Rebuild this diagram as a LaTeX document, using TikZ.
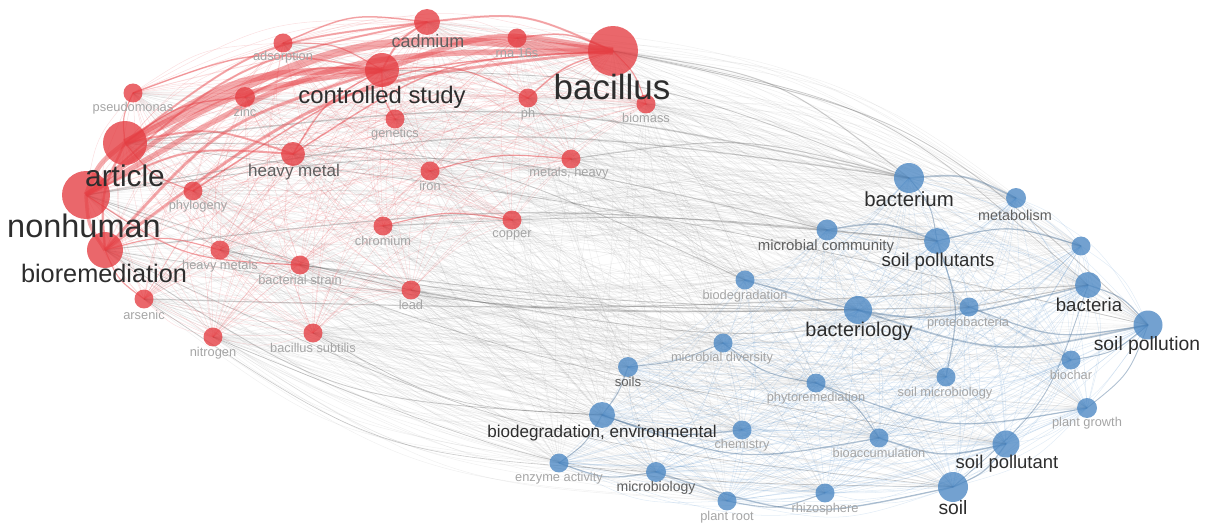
\documentclass[tikz,border=0pt]{standalone}
\usepackage{fontspec}
\setmainfont{Liberation Sans}
\definecolor{kred}{RGB}{228,60,65}
\definecolor{kblue}{RGB}{75,135,195}
\definecolor{kredge}{RGB}{230,70,75}
\definecolor{kbedge}{RGB}{80,140,200}
\definecolor{kgedge}{RGB}{100,100,100}
\definecolor{kbdark}{RGB}{70,105,140}
\definecolor{kdark}{RGB}{45,45,45}
\definecolor{kmid}{RGB}{95,95,95}
\definecolor{klight}{RGB}{165,165,165}
\pgfdeclarelayer{edges}
\pgfdeclarelayer{labels}
\pgfsetlayers{edges,main,labels}
\tikzset{
  rn/.style={circle, inner sep=0pt, draw=none, fill=kred, fill opacity=0.78},
  bn/.style={circle, inner sep=0pt, draw=none, fill=kblue, fill opacity=0.78},
  lab/.style={inner sep=0pt, text=kdark, font=\fontsize{#1}{#1}\selectfont},
  labm/.style={inner sep=0pt, text=kmid, font=\fontsize{#1}{#1}\selectfont},
  labs/.style={inner sep=0pt, text=klight, font=\fontsize{7.3}{7.3}\selectfont},
  redge/.style={draw=kredge, draw opacity=0.16, line width=0.3pt},
  bedge/.style={draw=kbedge, draw opacity=0.16, line width=0.3pt},
  gedge/.style={draw=kgedge, draw opacity=0.09, line width=0.3pt},
  rthick/.style={draw=kredge, draw opacity=0.45, line width=#1*0.567pt},
  gthick/.style={draw=kgedge, draw opacity=0.28, line width=#1*0.567pt},
  bthick/.style={draw=kbdark, draw opacity=0.35, line width=#1*0.567pt},
}
\newcommand\kw[5]{%
  \expandafter\gdef\csname kwx#1\endcsname{#2}%
  \expandafter\gdef\csname kwy#1\endcsname{#3}%
  \node[#5, minimum size=#4*0.04cm] (#1) at (#2,#3) {};}
\newcommand\kl[5]{%
  \begin{pgfonlayer}{labels}\node[#5] (l#1) at (#2,#3) {#4};\end{pgfonlayer}}
\newcommand\kedge[3]{%
  \edef\ax{\csname kwx#1\endcsname}\edef\ay{\csname kwy#1\endcsname}%
  \edef\bx{\csname kwx#2\endcsname}\edef\by{\csname kwy#2\endcsname}%
  \pgfmathsetmacro\kdx{(\bx-\ax)/100}%
  \pgfmathsetmacro\kdy{(\by-\ay)/100}%
  \pgfmathsetmacro\kmx{(\ax+\bx)/200-6.05}%
  \pgfmathsetmacro\kmy{(\ay+\by)/200-2.6}%
  \pgfmathsetmacro\kf{13.5*min(1,veclen(\kmx,\kmy)/2.2)}%
  \pgfmathsetmacro\ks{((\kdx)*(\kmy)-(\kdy)*(\kmx)<0)?-(\kf):(\kf)}%
  \pgfmathsetmacro\kcx{(\ax+\bx)/2-(\ks)*(\kdy)}%
  \pgfmathsetmacro\kcy{(\ay+\by)/2+(\ks)*(\kdx)}%
  \draw[#3] (#1.center) .. controls (\kcx,\kcy) .. (#2.center);}
\def\redlist{bacillus,cstudy,cadmium,rna,adsorption,pseudo,zinc,article,nonhuman,biorem,hmetal,genetics,ph,biomass,metalsh,iron,phylo,chromium,copper,hmetals,bstrain,lead,arsenic,nitrogen,bsubtilis}
\def\bluelist{bacterium,metab,unl,mcomm,spollutants,bacteria,biodeg,bacteriol,proteo,spollution,soils,mdiv,biochar,phyto,smicro,pgrowth,bioenv,chem,bioacc,spollutant,enzyme,microbio,proot,rhizo,soil}
\begin{document}
\begin{tikzpicture}[x=0.02cm,y=-0.02cm]
\useasboundingbox (0,0) rectangle (1210,523);
% red cluster
\kw{bacillus}{613}{51}{25}{rn}
\kw{cstudy}{382}{70}{17}{rn}
\kw{cadmium}{427}{22}{13}{rn}
\kw{rna}{517}{38}{9.5}{rn}
\kw{adsorption}{283}{43}{9.5}{rn}
\kw{pseudo}{133}{93}{9.5}{rn}
\kw{zinc}{245}{97}{10}{rn}
\kw{article}{125}{143}{22}{rn}
\kw{nonhuman}{86}{195}{24}{rn}
\kw{biorem}{105}{250}{18}{rn}
\kw{hmetal}{293}{154}{12}{rn}
\kw{genetics}{395}{119}{9.5}{rn}
\kw{ph}{528}{98}{9.5}{rn}
\kw{biomass}{646}{104}{9.5}{rn}
\kw{metalsh}{571}{159}{9.5}{rn}
\kw{iron}{430}{171}{9.5}{rn}
\kw{phylo}{193}{191}{9.5}{rn}
\kw{chromium}{383}{226}{9.5}{rn}
\kw{copper}{512}{220}{9.5}{rn}
\kw{hmetals}{220}{250}{9.5}{rn}
\kw{bstrain}{300}{265}{9.5}{rn}
\kw{lead}{411}{290}{9.5}{rn}
\kw{arsenic}{144}{299}{9.5}{rn}
\kw{nitrogen}{213}{337}{9.5}{rn}
\kw{bsubtilis}{313}{333}{9.5}{rn}
% blue cluster
\kw{bacterium}{909}{178}{15}{bn}
\kw{metab}{1016}{198}{10}{bn}
\kw{unl}{1081}{246}{9.5}{bn}
\kw{mcomm}{827}{230}{10.5}{bn}
\kw{spollutants}{937}{241}{13}{bn}
\kw{bacteria}{1088}{285}{13}{bn}
\kw{biodeg}{745}{280}{9.5}{bn}
\kw{bacteriol}{858}{310}{14}{bn}
\kw{proteo}{969}{307}{9.5}{bn}
\kw{spollution}{1148}{325}{14.5}{bn}
\kw{soils}{628}{367}{10}{bn}
\kw{mdiv}{723}{343}{9.5}{bn}
\kw{biochar}{1071}{360}{9.5}{bn}
\kw{phyto}{816}{383}{9.5}{bn}
\kw{smicro}{946}{377}{9.5}{bn}
\kw{pgrowth}{1087}{408}{10}{bn}
\kw{bioenv}{602}{415}{13}{bn}
\kw{chem}{742}{430}{9.5}{bn}
\kw{bioacc}{879}{438}{9.5}{bn}
\kw{spollutant}{1006}{444}{13.5}{bn}
\kw{enzyme}{559}{463}{9.5}{bn}
\kw{microbio}{656}{472}{10}{bn}
\kw{proot}{727}{501}{9.5}{bn}
\kw{rhizo}{825}{493}{9.5}{bn}
\kw{soil}{953}{487}{15}{bn}
% edges
\begin{pgfonlayer}{edges}
\foreach \a in \redlist {\foreach \b in \bluelist {\kedge{\a}{\b}{gedge}}}
\foreach \a [count=\i] in \redlist {\foreach \b [count=\j] in \redlist {\ifnum\j>\i\relax\kedge{\a}{\b}{redge}\fi}}
\foreach \a [count=\i] in \bluelist {\foreach \b [count=\j] in \bluelist {\ifnum\j>\i\relax\kedge{\a}{\b}{bedge}\fi}}
% strong grey
\foreach \a/\b/\w in {article/bacterium/1.5, nonhuman/bacterium/1.3, biorem/spollutants/1.2, arsenic/bacteria/1.2,
  hmetals/bacteriol/1, lead/bacteria/1, bacillus/bacterium/1.1, bacillus/spollution/0.9, nonhuman/mcomm/1,
  article/biodeg/0.9, bstrain/bacteriol/0.9, chromium/spollutants/0.9, metalsh/bacterium/1.1, biorem/bioenv/0.9,
  nonhuman/bacteriol/0.9, article/spollution/0.8, bacillus/bacteria/0.8, cstudy/bacterium/0.9, nitrogen/soil/0.7,
  biorem/soil/0.7, nonhuman/spollutant/0.7, bsubtilis/bioenv/0.7, arsenic/microbio/0.6, biorem/proteo/0.8}
  {\kedge{\a}{\b}{gthick=\w}}
% strong red
\foreach \a/\b/\w in {article/bacillus/8, article/cstudy/7, nonhuman/bacillus/5.5, nonhuman/cstudy/5, cstudy/bacillus/5.5,
  article/nonhuman/5, biorem/bacillus/3, biorem/cstudy/3, biorem/nonhuman/3.5, biorem/article/2.5,
  cadmium/bacillus/2, cadmium/cstudy/2, hmetal/article/2, hmetal/nonhuman/2, zinc/cstudy/2, zinc/article/1.5,
  pseudo/cstudy/1.5, adsorption/cadmium/1.5, rna/bacillus/1.5, article/cadmium/2, nonhuman/cadmium/2,
  hmetal/cstudy/1.5, ph/bacillus/1.5, biomass/bacillus/1.2, phylo/bacillus/1.5, chromium/copper/1.2,
  iron/metalsh/1.2, hmetal/bacillus/1.5, pseudo/article/1.2, arsenic/biorem/1.2, hmetals/biorem/1.2,
  ph/cstudy/1.2, genetics/cstudy/1.2, adsorption/cstudy/1.2, phylo/article/1.2, bstrain/nonhuman/1.2}
  {\kedge{\a}{\b}{rthick=\w}}
% strong blue
\foreach \a/\b/\w in {bacterium/metab/1.8, mcomm/spollutants/1.6, spollutants/unl/1.3, biodeg/bacteria/1.6,
  bacteriol/spollution/1.8, phyto/pgrowth/1.3, bioacc/spollutant/1.6, microbio/soil/1.4, spollutants/smicro/1.3,
  bioenv/chem/1.3, bioenv/soils/1.1, enzyme/microbio/1.3, proot/rhizo/1.1, phyto/bioacc/1, mdiv/phyto/1,
  soils/mdiv/1, bioenv/bioacc/1.3, proteo/spollution/1.3, biochar/spollution/1, pgrowth/spollution/0.9,
  soil/spollutant/1.3, bacterium/spollutants/1, bacteria/spollution/1.2, soil/bacteria/0.9, enzyme/bioenv/1}
  {\kedge{\a}{\b}{bthick=\w}}
\end{pgfonlayer}
% labels red
\kl{bacillus}{612}{87}{bacillus}{lab=19.9}
\kl{cstudy}{382}{97}{controlled study}{lab=13.6}
\kl{cadmium}{428}{41}{cadmium}{labm=10.2}
\kl{rna}{517}{53}{rna 16s}{labs}
\kl{adsorption}{283}{57}{adsorption}{labs}
\kl{pseudo}{133}{108}{pseudomonas}{labs}
\kl{zinc}{245}{112}{zinc}{labs}
\kl{article}{125}{176}{article}{lab=17}
\kl{nonhuman}{84}{226}{nonhuman}{lab=18.5}
\kl{biorem}{104}{273}{bioremediation}{lab=14.4}
\kl{hmetal}{294}{172}{heavy metal}{labm=9.7}
\kl{genetics}{395}{134}{genetics}{labs}
\kl{ph}{528}{114}{ph}{labs}
\kl{biomass}{646}{118}{biomass}{labs}
\kl{metalsh}{569}{173}{metals, heavy}{labs}
\kl{iron}{430}{186}{iron}{labs}
\kl{phylo}{198}{206}{phylogeny}{labs}
\kl{chromium}{383}{241}{chromium}{labs}
\kl{copper}{512}{235}{copper}{labs}
\kl{hmetals}{220}{266}{heavy metals}{labs}
\kl{bstrain}{300}{280}{bacterial strain}{labs}
\kl{lead}{411}{305}{lead}{labs}
\kl{arsenic}{144}{315}{arsenic}{labs}
\kl{nitrogen}{213}{353}{nitrogen}{labs}
\kl{bsubtilis}{313}{348}{bacillus subtilis}{labs}
% labels blue
\kl{bacterium}{909}{199}{bacterium}{lab=11.6}
\kl{metab}{1015}{215}{metabolism}{labm=8.2}
\kl{mcomm}{826}{247}{microbial community}{labm=8.5}
\kl{spollutants}{938}{262}{soil pollutants}{lab=10.6}
\kl{bacteria}{1089}{305}{bacteria}{lab=10.6}
\kl{biodeg}{745}{296}{biodegradation}{labs}
\kl{bacteriol}{859}{331}{bacteriology}{lab=11.3}
\kl{proteo}{968}{323}{proteobacteria}{labs}
\kl{spollution}{1147}{346}{soil pollution}{lab=11}
\kl{soils}{628}{382}{soils}{labm=7.5}
\kl{mdiv}{722}{358}{microbial diversity}{labs}
\kl{biochar}{1071}{375}{biochar}{labs}
\kl{phyto}{816}{398}{phytoremediation}{labs}
\kl{smicro}{945}{393}{soil microbiology}{labs}
\kl{pgrowth}{1087}{423}{plant growth}{labs}
\kl{bioenv}{602}{433}{biodegradation, environmental}{lab=9.7}
\kl{chem}{742}{445}{chemistry}{labs}
\kl{bioacc}{879}{453}{bioaccumulation}{labs}
\kl{spollutant}{1007}{464}{soil pollutant}{lab=10.5}
\kl{enzyme}{559}{478}{enzyme activity}{labs}
\kl{microbio}{656}{488}{microbiology}{labm=8}
\kl{proot}{727}{517}{plant root}{labs}
\kl{rhizo}{825}{509}{rhizosphere}{labs}
\kl{soil}{953}{508}{soil}{lab=11}
\end{tikzpicture}
\end{document}
